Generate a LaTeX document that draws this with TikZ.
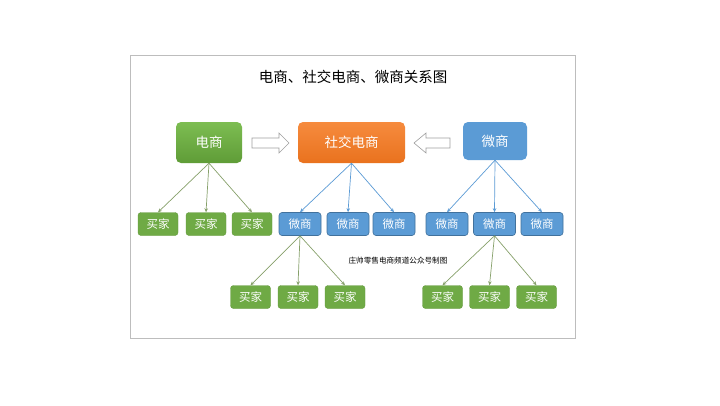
\documentclass[tikz,border=0pt]{standalone}
\usepackage{fontspec}
\setmainfont{Noto Sans CJK SC}
\usetikzlibrary{arrows.meta}
\definecolor{gfill}{HTML}{6FAA45}
\definecolor{gtop}{HTML}{7DBD52}
\definecolor{gbot}{HTML}{5F9C37}
\definecolor{otop}{HTML}{F68B3E}
\definecolor{obot}{HTML}{E9721E}
\definecolor{bfill}{HTML}{5B9BD5}
\definecolor{bline}{HTML}{41719C}
\definecolor{garrow}{HTML}{86A06A}
\definecolor{barrow}{HTML}{5B9BD5}
\definecolor{frame}{HTML}{BDBDBD}
\tikzset{
  topbox/.style={rounded corners=5pt, inner sep=0pt, text=white, font=\fontsize{13.5}{15}\selectfont},
  buyer/.style={rounded corners=3pt, fill=gfill, draw=gfill!90!black, line width=0.4pt, minimum width=40pt, minimum height=23pt, inner sep=0pt, text=white, font=\fontsize{11.5}{13}\selectfont},
  wshang/.style={rounded corners=3pt, fill=bfill, draw=bline, line width=0.6pt, minimum width=42pt, minimum height=23pt, inner sep=0pt, text=white, font=\fontsize{11.5}{13}\selectfont},
  garr/.style={draw=garrow, line width=0.7pt, -{Stealth[length=4pt,width=3.5pt]}},
  barr/.style={draw=barrow, line width=0.7pt, -{Stealth[length=4pt,width=3.5pt]}},
  hollow/.style={draw=gray!75, fill=white, line width=0.6pt, line join=miter},
}
\begin{document}
\begin{tikzpicture}[x=1pt,y=-1pt]
\useasboundingbox (0,0) rectangle (720,405);
\fill[white] (0,0) rectangle (720,405);
\draw[frame, line width=0.8pt] (130,55) rectangle (575,338);
\node (title) at (353,77) {\fontsize{14.5}{16}\selectfont 电商、社交电商、微商关系图};
% top boxes
\node[topbox, top color=gtop, bottom color=gbot, minimum width=66pt, minimum height=41pt] (ds) at (209,142.5) {电商};
\node[topbox, top color=otop, bottom color=obot, minimum width=107pt, minimum height=41pt] (sj) at (351.5,142.5) {社交电商};
\node[topbox, fill=bfill, minimum width=64pt, minimum height=38pt] (ws) at (495,141) {微商};
% hollow arrows
\coordinate (ha1) at (252,143);
\coordinate (ha2) at (450,143);
\draw[hollow] (ha1) ++(0,-5) -- ++(27,0) -- ++(0,-5) -- ++(10,10) -- ++(-10,10) -- ++(0,-5) -- ++(-27,0) -- cycle;
\draw[hollow] (ha2) ++(0,-5) -- ++(-24,0) -- ++(0,-5) -- ++(-12,10) -- ++(12,10) -- ++(0,-5) -- ++(24,0) -- cycle;
% row 2
\node[buyer] (b1) at (158,224) {买家};
\node[buyer] (b2) at (206,224) {买家};
\node[buyer] (b3) at (252,224) {买家};
\node[wshang] (w1) at (300,224) {微商};
\node[wshang] (w2) at (348,224) {微商};
\node[wshang] (w3) at (394,224) {微商};
\node[wshang] (w4) at (447,224) {微商};
\node[wshang] (w5) at (494.5,224) {微商};
\node[wshang] (w6) at (542,224) {微商};
% row 3
\node[buyer] (c1) at (250.5,297) {买家};
\node[buyer] (c2) at (298,297) {买家};
\node[buyer] (c3) at (345,297) {买家};
\node[buyer] (c4) at (442.5,297) {买家};
\node[buyer] (c5) at (489.5,297) {买家};
\node[buyer] (c6) at (536.5,297) {买家};
% credit
\node (credit) at (398,261) {\fontsize{7.6}{9}\selectfont 庄帅零售电商频道公众号制图};
% connectors
\foreach \t in {b1,b2,b3} \draw[garr] (ds.south) -- (\t.north);
\foreach \t in {w1,w2,w3} \draw[barr] (sj.south) -- (\t.north);
\foreach \t in {w4,w5,w6} \draw[barr] (ws.south) -- (\t.north);
\foreach \t in {c1,c2,c3} \draw[garr] (w1.south) -- (\t.north);
\foreach \t in {c4,c5,c6} \draw[garr] (w5.south) -- (\t.north);
\end{tikzpicture}
\end{document}
